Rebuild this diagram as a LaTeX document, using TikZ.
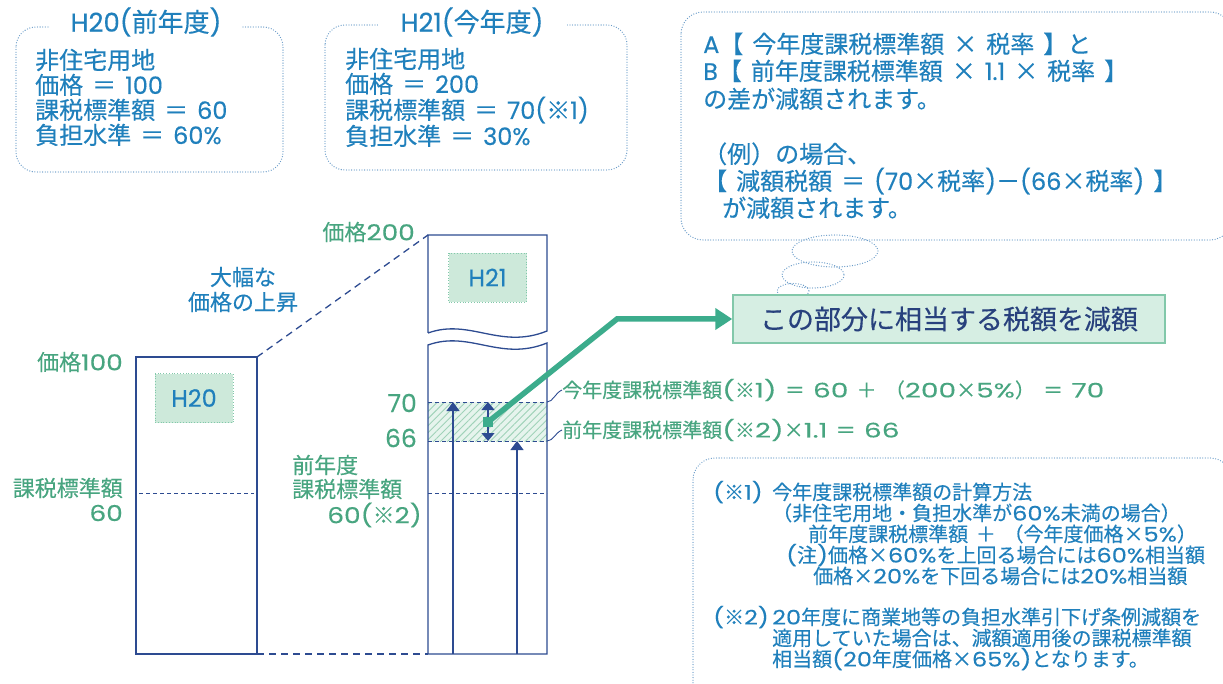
\documentclass[tikz,border=0pt]{standalone}
\usepackage{fontspec}
\setmainfont{Poppins}[Numbers=Monospaced, WordSpace=1.4, FakeBold=0.3]
\newfontfamily\widefont{Poppins}[Numbers=Monospaced, WordSpace=1.1, FakeBold=0.3, FakeStretch=1.4]
\newfontfamily\midfont{Poppins}[Numbers=Monospaced, WordSpace=1.2, FakeBold=0.3, FakeStretch=1.2]
\newfontfamily\cjkfont{Noto Sans CJK JP}[FakeBold=0.3]
\usetikzlibrary{arrows.meta,patterns.meta}
\XeTeXinterchartokenstate=1
\newXeTeXintercharclass\cjkclass
\newcount\cjkcnt
\cjkcnt="3000
\loop
  \XeTeXcharclass\cjkcnt=\cjkclass
  \advance\cjkcnt by 1
\ifnum\cjkcnt<"A000 \repeat
\cjkcnt="FF00
\loop
  \XeTeXcharclass\cjkcnt=\cjkclass
  \advance\cjkcnt by 1
\ifnum\cjkcnt<"FFF0 \repeat
\XeTeXcharclass"203B=\cjkclass
\XeTeXcharclass"00D7=\cjkclass
\newcommand\latinfont{\rmfamily}
\XeTeXinterchartoks 0 \cjkclass = {\cjkfont}
\XeTeXinterchartoks 4095 \cjkclass = {\cjkfont}
\XeTeXinterchartoks \cjkclass 0 = {\latinfont}
\XeTeXinterchartoks \cjkclass 4095 = {\latinfont}
\newcommand\fsz[1]{\fontsize{#1}{#1}\selectfont}
\definecolor{tblue}{RGB}{32,128,188}
\definecolor{tgreen}{RGB}{72,165,128}
\definecolor{navy}{RGB}{45,75,145}
\definecolor{dotblue}{RGB}{105,155,200}
\definecolor{gfill}{RGB}{214,238,227}
\definecolor{lfill}{RGB}{205,233,218}
\definecolor{gline}{RGB}{130,200,170}
\definecolor{garrow}{RGB}{60,172,140}
\definecolor{dnavy}{RGB}{40,65,125}
\definecolor{hfill}{RGB}{230,244,237}
\definecolor{hline}{RGB}{160,210,185}
\tikzset{
  txt/.style={inner sep=0pt, anchor=west},
  txtr/.style={inner sep=0pt, anchor=east},
  dotbox/.style={draw=dotblue, line width=1.3pt, line cap=round, dash pattern=on 0pt off 2.6pt, rounded corners=20pt},
  dotell/.style={draw=dotblue, line width=1.3pt, line cap=round, dash pattern=on 0pt off 2.6pt},
  boxtitle/.style={fill=white, inner sep=0pt, minimum height=24pt, text=tblue, font=\fsz{26}},
  bodyb/.style={txt, text=tblue, font=\fsz{24}, text height=20pt, text depth=2pt},
  bubtxt/.style={txt, text=tblue, font=\fsz{24}, text height=20pt, text depth=2pt},
  notetxt/.style={txt, text=tblue, font={\fsz{20}\let\latinfont\midfont\midfont}, text height=16pt, text depth=1pt},
  labtxt/.style={txt, text=tgreen, font={\fsz{20}\let\latinfont\widefont\widefont}},
  glab/.style={text=tgreen, font=\fsz{22}},
  glabm/.style={text=tgreen, font={\fsz{22}\let\latinfont\midfont\midfont}},
  bar/.style={draw=navy, line width=1.3pt},
  dashline/.style={draw=navy, line width=1.3pt, dash pattern=on 7pt off 5pt},
  sdash/.style={draw=navy, line width=1pt, dash pattern=on 4pt off 3pt},
  lead/.style={draw=navy, line width=0.9pt},
  uparrow/.style={draw=navy, line width=1.2pt, -{Triangle[width=13pt,length=9pt]}},
  hbox/.style={fill=lfill, draw=gline, line width=0.8pt, dotted, minimum width=78pt, minimum height=49pt, text=tblue, font=\fsz{24}},
}
\begin{document}
\begin{tikzpicture}[x=1pt,y=-1pt]
\useasboundingbox (0,0) rectangle (1223,684);

% ---------- top-left box ----------
\draw[dotbox] (16,27) rectangle (283,172);
\node[boxtitle, minimum width=192pt] (t1) at (146,22) {H20(前年度)};
\node[bodyb] (b11) at (35,60) {非住宅用地};
\node[bodyb] (b12) at (35,85) {価格 ＝ 100};
\node[bodyb] (b13) at (35,110) {課税標準額 ＝ 60};
\node[bodyb] (b14) at (35,135) {負担水準 ＝ 60\%};

% ---------- top-middle box ----------
\draw[dotbox] (325,25) rectangle (627,170);
\node[boxtitle, minimum width=189pt] (t2) at (472,22) {H21(今年度)};
\node[bodyb] (b21) at (345,59) {非住宅用地};
\node[bodyb] (b22) at (345,84) {価格 ＝ 200};
\node[bodyb] (b23) at (345,110) {課税標準額 ＝ 70(※1)};
\node[bodyb] (b24) at (345,136) {負担水準 ＝ 30\%};

% ---------- top-right thought bubble ----------
\draw[dotbox, rounded corners=22pt] (681,12) rectangle (1232,240);
\node[bubtxt] (c1) at (703,44) {A【 今年度課税標準額 × 税率 】と};
\node[bubtxt] (c2) at (703,71) {B【 前年度課税標準額 × 1.1 × 税率 】};
\node[bubtxt] (c3) at (703,99) {の差が減額されます。};
\node[bubtxt] (c4) at (703,154) {（例）の場合、};
\node[bubtxt] (c5) at (703,181) {【 減額税額 ＝ (70×税率)－(66×税率) 】};
\node[bubtxt] (c6) at (722,208) {が減額されます。};
\draw[dotell] (835,251) ellipse [x radius=43, y radius=16];
\draw[dotell] (813,275) ellipse [x radius=31, y radius=13];
\draw[dotell] (793,291) ellipse [x radius=16, y radius=7.5];

% ---------- green box ----------
\node[fill=gfill, draw=gline, line width=1.5pt, minimum width=432pt, minimum height=48pt,
      text=dnavy, font=\fsz{27}] (gbox) at (949,319) {この部分に相当する税額を減額};

% ---------- H20 bar ----------
\draw[bar] (136,357) coordinate (h20tl) rectangle (257,654);
\coordinate (h20tr) at (257,357);
\coordinate (h20br) at (257,654);
\node[hbox] (h20) at (194,398) {H20};
\draw[sdash] (139,493) -- (254,493);

% ---------- H21 bar ----------
\fill[hfill] (428,402) rectangle (547,441);
\fill[pattern={Lines[angle=45,distance=5pt,line width=0.9pt]}, pattern color=hline] (428,402) rectangle (547,441);
\draw[bar] (428,333) -- (428,235) coordinate (h21tl) -- (547,235) -- (547,331)
   .. controls (500,350) and (470,318) .. (428,333);
\draw[bar] (428,345) .. controls (470,330) and (500,362) .. (547,343)
   -- (547,654) -- (428,654) coordinate (h21bl) -- cycle;
\node[hbox] (h21) at (487.5,277.5) {H21};

% dashed connectors
\draw[dashline] (h20tr) -- (h21tl);
\draw[dashline] (h20br) -- (h21bl);

% dashed levels in H21
\draw[sdash] (428,402) -- (547,402) coordinate (l70);
\draw[sdash] (428,441) -- (547,441) coordinate (l66);
\draw[sdash] (428,493) -- (547,493);

% arrows
\coordinate (a1s) at (453,654);
\coordinate (a1e) at (453,402);
\coordinate (a2s) at (517,654);
\coordinate (a2e) at (517,441);
\draw[uparrow] (a1s) -- (a1e);
\draw[uparrow] (a2s) -- (a2e);
\coordinate (d1) at (488,402);
\coordinate (d2) at (488,441);
\draw[draw=navy, line width=1.2pt, {Triangle[width=13pt,length=8pt]}-{Triangle[width=13pt,length=8pt]}] (d1) -- (d2);

% green arrow
\node[fill=garrow, inner sep=0pt, minimum size=10pt] (sq) at (488,422) {};
\coordinate (bend) at (617,319);
\draw[garrow, line width=5.5pt, -{Triangle[width=21pt,length=17pt]}] (sq.center) -- (bend) -- (gbox.west);

% labels of levels
\node[labtxt] (lab1) at (562,390) {今年度課税標準額(※1) ＝ 60 ＋ （200×5\%） ＝ 70};
\node[labtxt] (lab2) at (562,430) {前年度課税標準額(※2)×1.1 ＝ 66};
\draw[lead] (l70) .. controls (553,402) and (555,393) .. (lab1.west);
\draw[lead] (l66) .. controls (553,441) and (555,433) .. (lab2.west);

% green axis labels
\node[txtr, glabm] (p200) at (415,232) {価格200};
\node[txtr, glabm] (p100) at (123,362) {価格100};
\node[txtr, glab] (k1) at (123,488) {課税標準額};
\node[txtr, glabm] (k2) at (123,513) {60};
\node[txtr, text=tgreen, font=\fsz{25}] (v70) at (417,403) {70};
\node[txtr, text=tgreen, font=\fsz{25}] (v66) at (417,438) {66};
\node[txt, glab] (z1) at (292,465) {前年度};
\node[txt, glab] (z2) at (292,489) {課税標準額};
\node[txtr, glabm] (z3) at (422,515) {60(※2)};
\node[text=tblue, font=\fsz{22}, inner sep=0pt] (r1) at (243,277) {大幅な};
\node[text=tblue, font=\fsz{22}, inner sep=0pt] (r2) at (243,302) {価格の上昇};

% ---------- bottom-right notes ----------
\draw[dotbox, rounded corners=22pt] (693,458) rectangle (1232,710);
\node[notetxt] (n1a) at (713,492) {(※1)};
\node[notetxt] (n1b) at (772,492) {今年度課税標準額の計算方法};
\node[notetxt] (n2) at (772,513) {（非住宅用地・負担水準が60\%未満の場合）};
\node[notetxt] (n3) at (808,534) {前年度課税標準額 ＋ （今年度価格×5\%）};
\node[notetxt] (n4) at (786,555) {(注)価格×60\%を上回る場合には60\%相当額};
\node[notetxt] (n5) at (813,576) {価格×20\%を下回る場合には20\%相当額};
\node[notetxt] (n6a) at (713,617) {(※2)};
\node[notetxt] (n6b) at (772,617) {20年度に商業地等の負担水準引下げ条例減額を};
\node[notetxt] (n7) at (772,638) {適用していた場合は、減額適用後の課税標準額};
\node[notetxt] (n8) at (772,659) {相当額(20年度価格×65\%)となります。};
\end{tikzpicture}
\end{document}
